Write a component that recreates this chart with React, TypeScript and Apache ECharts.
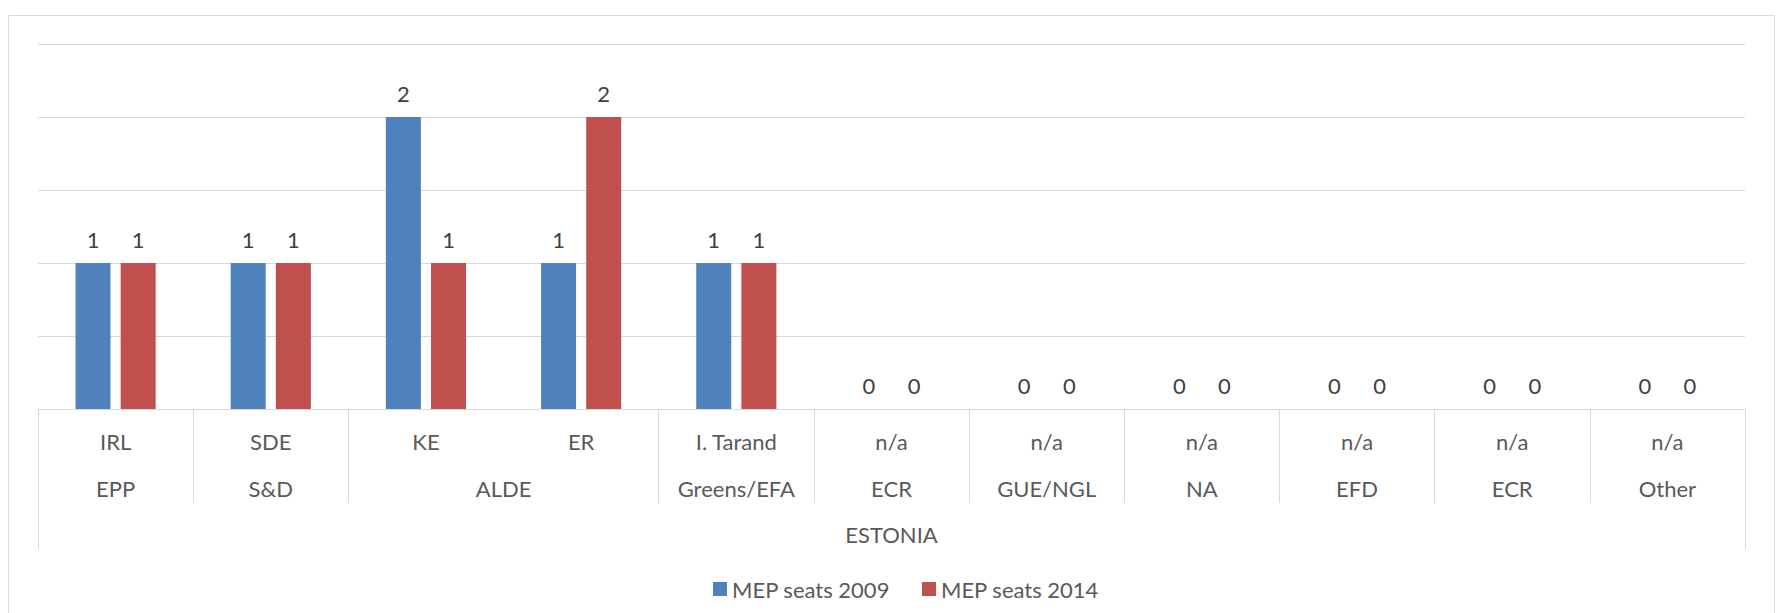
import React, { useEffect, useRef } from "react";
import * as echarts from "echarts";

// ---- data ----
const categories = ["IRL", "SDE", "KE", "ER", "I. Tarand", "n/a", "n/a", "n/a", "n/a", "n/a", "n/a"];
const seats2009 = [1, 1, 2, 1, 1, 0, 0, 0, 0, 0, 0];
const seats2014 = [1, 1, 1, 2, 1, 0, 0, 0, 0, 0, 0];
const groupNames = ["EPP", "S&D", "ALDE", "Greens/EFA", "ECR", "GUE/NGL", "NA", "EFD", "ECR", "Other"];
const groupSpans = [1, 1, 2, 1, 1, 1, 1, 1, 1, 1];
const countryName = "ESTONIA";
const seriesNames = ["MEP seats 2009", "MEP seats 2014"];
const yMin = 0;
const yMax = 2.5;
const yInterval = 0.5;

const FONT = "Lato";
const AXIS_GRAY = "#d9d9d9";
const LABEL_COLOR = "#595959";

export default function App() {
  const ref = useRef<HTMLDivElement>(null);

  useEffect(() => {
    if (!ref.current) return;
    const chart = echarts.init(ref.current, null, { renderer: "svg" });

    // group boundaries and centers derived from spans
    const groupCenters: number[] = [];
    const groupBounds: number[] = [0];
    let acc = 0;
    groupSpans.forEach((s) => {
      groupCenters.push(acc + s / 2);
      acc += s;
      groupBounds.push(acc);
    });
    const total = categories.length;
    const innerBounds = groupBounds.filter((b) => b > 0 && b < total);

    const labelText = { fontFamily: FONT, fontSize: 22, color: LABEL_COLOR };

    const option: any = {
      animation: false,
      textStyle: { fontFamily: FONT },
      graphic: [
        {
          type: "rect",
          silent: true,
          z: -10,
          shape: { x: 8.5, y: 15.5, width: 1766, height: 700 },
          style: { fill: "none", stroke: AXIS_GRAY, lineWidth: 1 },
        },
      ],
      grid: { left: 38, right: 31, top: 44, bottom: 204 },
      legend: {
        data: seriesNames,
        left: 708,
        top: 573,
        icon: "rect",
        itemWidth: 14,
        itemHeight: 14,
        itemGap: 32,
        textStyle: { ...labelText },
      },
      xAxis: [
        {
          type: "category",
          data: categories,
          position: "bottom",
          axisLine: { lineStyle: { color: AXIS_GRAY, width: 1 } },
          axisTick: { show: false },
          axisLabel: { ...labelText, margin: 21, interval: 0 },
          splitLine: { show: false },
        },
        {
          type: "value",
          min: 0,
          max: total,
          position: "bottom",
          axisLine: { show: false },
          splitLine: { show: false },
          axisTick: {
            show: true,
            customValues: innerBounds,
            length: 94,
            lineStyle: { color: AXIS_GRAY, width: 1 },
          },
          axisLabel: {
            ...labelText,
            customValues: groupCenters,
            margin: 68,
            formatter: (v: number) => {
              const i = groupCenters.findIndex((c) => Math.abs(c - v) < 1e-6);
              return i >= 0 ? groupNames[i] : "";
            },
          },
        },
        {
          type: "value",
          min: 0,
          max: total,
          position: "bottom",
          axisLine: { show: false },
          splitLine: { show: false },
          axisTick: {
            show: true,
            customValues: [0, total],
            length: 140,
            lineStyle: { color: AXIS_GRAY, width: 1 },
          },
          axisLabel: {
            ...labelText,
            customValues: [total / 2],
            margin: 114,
            formatter: () => countryName,
          },
        },
      ],
      yAxis: {
        type: "value",
        min: yMin,
        max: yMax,
        interval: yInterval,
        axisLabel: { show: false },
        axisLine: { show: false },
        axisTick: { show: false },
        splitLine: { lineStyle: { color: AXIS_GRAY, width: 1 } },
      },
      series: [
        {
          type: "bar",
          name: seriesNames[0],
          data: seats2009,
          xAxisIndex: 0,
          barWidth: 35,
          barGap: "29%",
          itemStyle: { color: "#4F81BD" },
          label: { show: true, position: "top", distance: 13, fontFamily: FONT, fontSize: 22, color: "#404040" },
        },
        {
          type: "bar",
          name: seriesNames[1],
          data: seats2014,
          xAxisIndex: 0,
          barWidth: 35,
          barGap: "29%",
          itemStyle: { color: "#C0504D" },
          label: { show: true, position: "top", distance: 13, fontFamily: FONT, fontSize: 22, color: "#404040" },
        },
      ],
    };

    chart.setOption(option);
    return () => chart.dispose();
  }, []);

  return (
    <div
      ref={ref}
      style={{ position: "fixed", left: 0, top: 0, width: 1776, height: 613, background: "#ffffff" }}
    />
  );
}
